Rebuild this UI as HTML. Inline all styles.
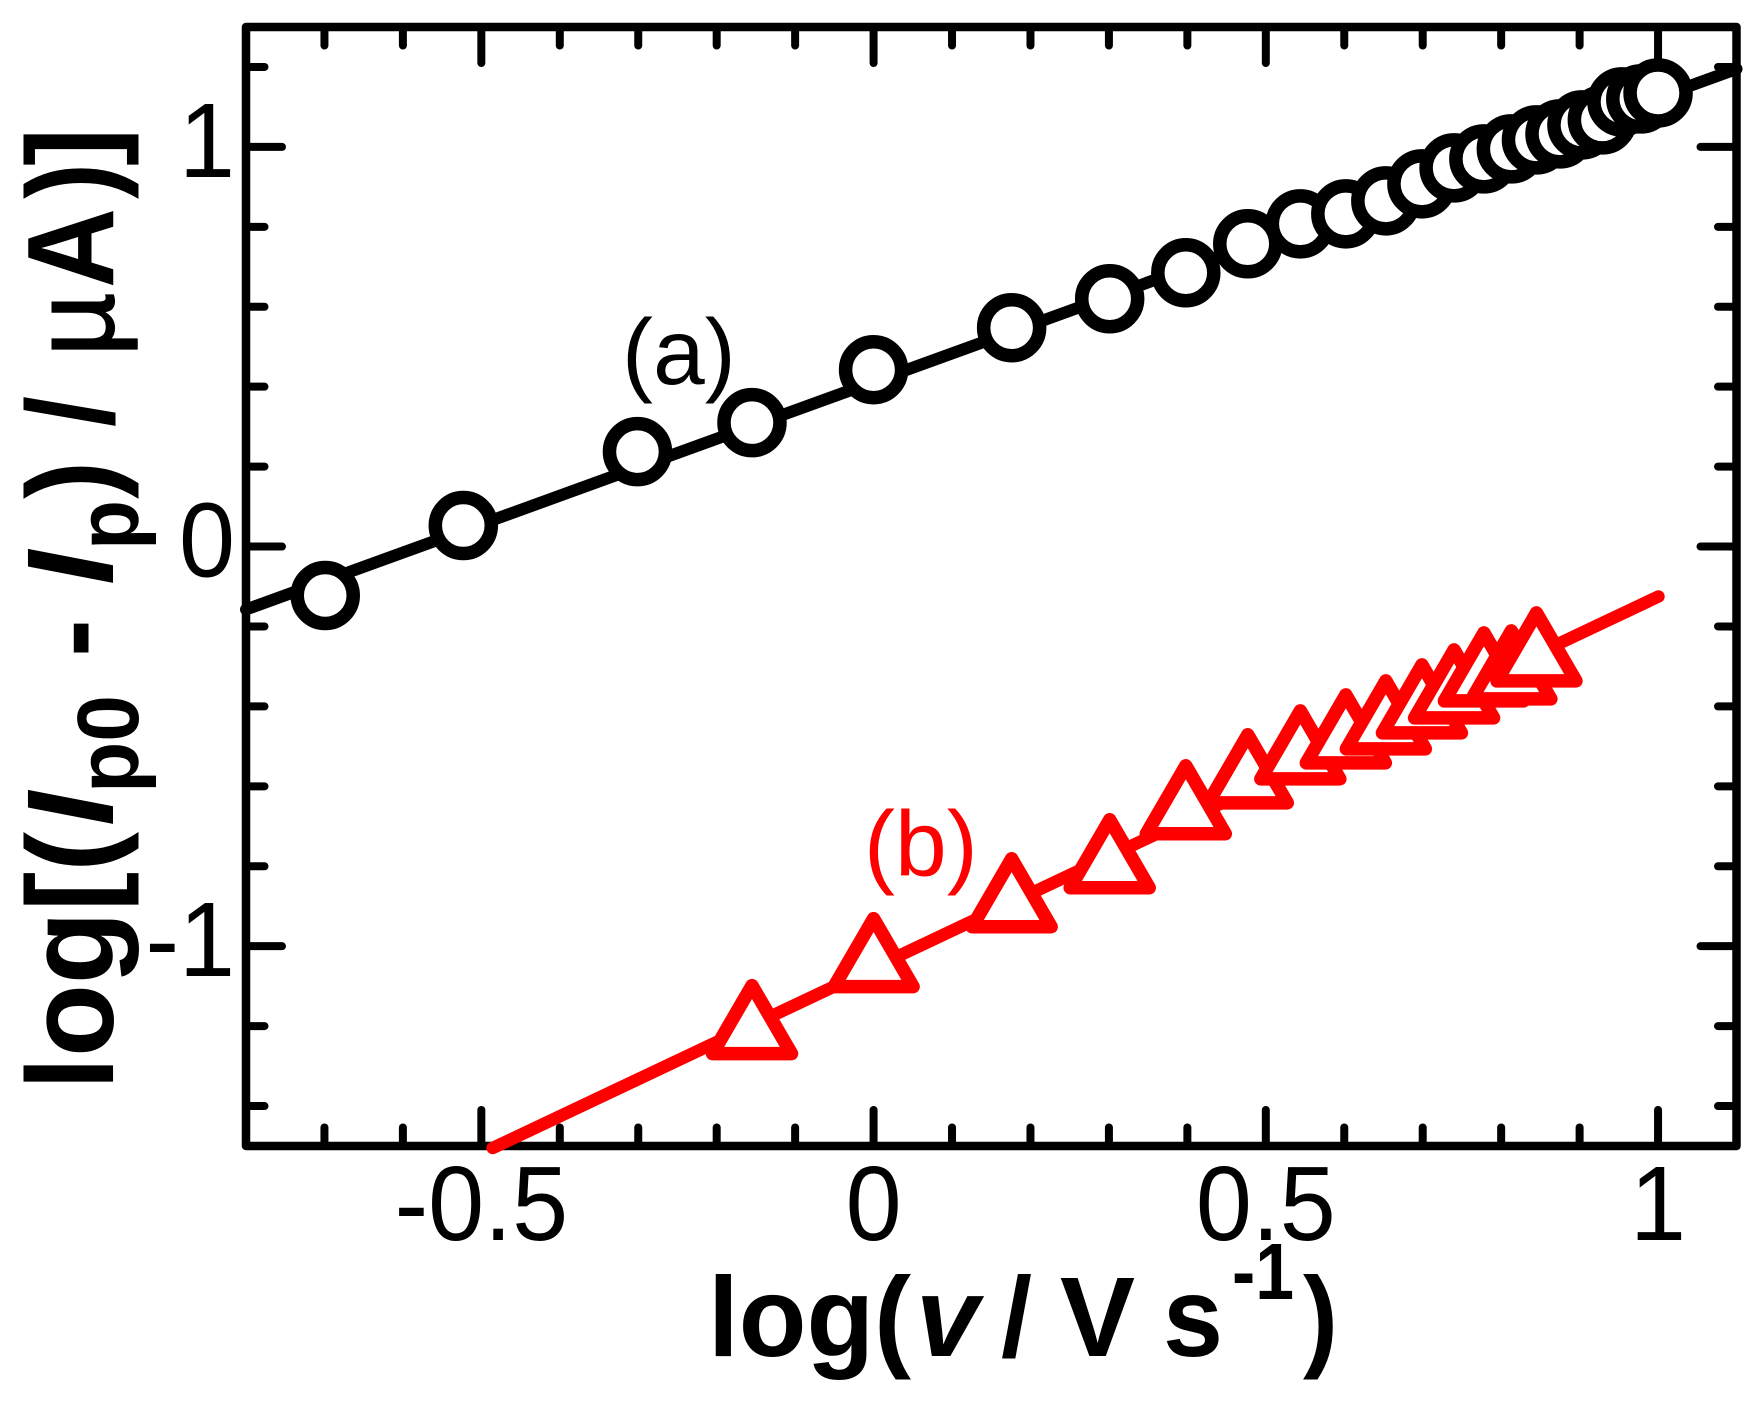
<!DOCTYPE html>
<html lang="en">
<head>
<meta charset="utf-8">
<title>log(Ip0 - Ip) vs log(v)</title>
<style>
html,body{margin:0;padding:0;background:#fff;}
svg{display:block;}
text{font-family:"Liberation Sans",Arial,sans-serif;fill:#000;}
.b{font-weight:bold;}
.bi{font-weight:bold;font-style:italic;}
</style>
</head>
<body>
<svg id="chart" xmlns="http://www.w3.org/2000/svg" width="1764" height="1411" viewBox="0 0 1764 1411">
  <rect x="0" y="0" width="1764" height="1411" fill="#fff"/>
  <g id="ticks"></g>
  <rect x="246" y="27" width="1490.5" height="1119" fill="none" stroke="#000" stroke-width="8.5" stroke-linejoin="round"/>
  <g id="marks"></g>
  <g id="labels"></g>

  <g font-size="123">
    <text class="b" transform="translate(113,1090) rotate(-90)" textLength="258" lengthAdjust="spacingAndGlyphs">log[(</text>
    <text class="bi" transform="translate(113,826) rotate(-90)" textLength="34" lengthAdjust="spacingAndGlyphs">I</text>
    <text class="b" font-size="87" transform="translate(138,793) rotate(-90)" textLength="98" lengthAdjust="spacingAndGlyphs">p0</text>
    <text class="b" transform="translate(113,657) rotate(-90)" textLength="38" lengthAdjust="spacingAndGlyphs">-</text>
    <text class="bi" transform="translate(113,585) rotate(-90)" textLength="34" lengthAdjust="spacingAndGlyphs">I</text>
    <text class="b" font-size="87" transform="translate(138,550) rotate(-90)" textLength="50" lengthAdjust="spacingAndGlyphs">p</text>
    <text class="b" transform="translate(113,499) rotate(-90)" textLength="38" lengthAdjust="spacingAndGlyphs">)</text>
    <text class="b" transform="translate(113,427) rotate(-90)" textLength="31" lengthAdjust="spacingAndGlyphs">/</text>
    <text font-size="115" stroke="#000" stroke-width="1.5" transform="translate(113,356.5) rotate(-90)" textLength="64" lengthAdjust="spacingAndGlyphs">µ</text>
    <text class="b" transform="translate(113,288) rotate(-90)" textLength="80" lengthAdjust="spacingAndGlyphs">A</text>
    <text class="b" transform="translate(113,199) rotate(-90)" textLength="36" lengthAdjust="spacingAndGlyphs">)</text>
    <text class="b" transform="translate(113,166) rotate(-90)" textLength="38" lengthAdjust="spacingAndGlyphs">]</text>
  </g>

  <g font-size="113">
    <text class="b" x="708" y="1356" textLength="203" lengthAdjust="spacingAndGlyphs">log(</text>
    <text class="bi" x="916" y="1356" textLength="63" lengthAdjust="spacingAndGlyphs">v</text>
    <text class="b" x="1001" y="1356" textLength="31" lengthAdjust="spacingAndGlyphs">/</text>
    <text class="b" x="1060" y="1356" textLength="75" lengthAdjust="spacingAndGlyphs">V</text>
    <text class="b" x="1163" y="1356" textLength="60" lengthAdjust="spacingAndGlyphs">s</text>
    <text class="b" font-size="80" x="1232" y="1299" textLength="62" lengthAdjust="spacingAndGlyphs">-1</text>
    <text class="b" x="1303" y="1356" textLength="35" lengthAdjust="spacingAndGlyphs">)</text>
  </g>

  <text x="622" y="384" font-size="93">(a)</text>
  <text x="864" y="876" font-size="93" style="fill:#f00">(b)</text>
</svg>
<script>
// Axis domains and ticks
const xDomain = [-0.8, 1.1];
const yDomain = [-1.5, 1.3];
const xMajorTicks = [-0.5, 0, 0.5, 1];
const xMinorTicks = [-0.7, -0.6, -0.4, -0.3, -0.2, -0.1, 0.1, 0.2, 0.3, 0.4, 0.6, 0.7, 0.8, 0.9];
const yMajorTicks = [-1, 0, 1];
const yMinorTicks = [-1.4, -1.2, -0.8, -0.6, -0.4, -0.2, 0.2, 0.4, 0.6, 0.8, 1.2];
const xTickLabels = ["-0.5", "0", "0.5", "1"];
const yTickLabels = ["-1", "0", "1"];

// Series (a): black circles
const seriesAX = [-0.699, -0.523, -0.301, -0.155, 0, 0.176, 0.301, 0.398, 0.477, 0.544, 0.602, 0.653, 0.699, 0.740, 0.778, 0.813, 0.845, 0.875, 0.903, 0.929, 0.954, 0.978, 1.0];
const seriesAY = [-0.1225, 0.0525, 0.2375, 0.31, 0.4425, 0.5475, 0.62, 0.685, 0.7575, 0.8075, 0.8325, 0.865, 0.9075, 0.9475, 0.97, 0.995, 1.0175, 1.0325, 1.055, 1.0675, 1.1125, 1.12, 1.135];
const fitAX = [-0.8, 1.1];
const fitAY = [-0.1575, 1.195];

// Series (b): red triangles
const seriesBX = [-0.155, 0, 0.176, 0.301, 0.398, 0.477, 0.544, 0.602, 0.653, 0.699, 0.740, 0.778, 0.813, 0.845];
const seriesBY = [-1.2125, -1.045, -0.895, -0.7975, -0.6625, -0.585, -0.525, -0.485, -0.45, -0.41, -0.3725, -0.33, -0.325, -0.28];
const fitBX = [-0.4855, 1.0005];
const fitBY = [-1.505, -0.125];

const plotLeft = 246, plotRight = 1736.5, plotTop = 27, plotBottom = 1146;
const X = v => plotLeft + (v - xDomain[0]) / (xDomain[1] - xDomain[0]) * (plotRight - plotLeft);
const Y = v => plotBottom - (v - yDomain[0]) / (yDomain[1] - yDomain[0]) * (plotBottom - plotTop);

const NS = "http://www.w3.org/2000/svg";
const ticksG = document.getElementById("ticks");
const marksG = document.getElementById("marks");
const labelsG = document.getElementById("labels");

function make(tag, attrs, parent) {
  const el = document.createElementNS(NS, tag);
  for (const k in attrs) el.setAttribute(k, attrs[k]);
  parent.appendChild(el);
  return el;
}

function tickLine(x1, y1, x2, y2, name) {
  const el = make("line", {x1, y1, x2, y2, stroke: "#000", "stroke-width": 8, "stroke-linecap": "round"}, ticksG);
  
  
}

function xTicks(values, len, kind) {
  values.forEach(v => {
    tickLine(X(v), plotBottom, X(v), plotBottom - len, 'x-' + kind + '-tick-bottom');
    tickLine(X(v), plotTop, X(v), plotTop + len, 'x-' + kind + '-tick-top');
  });
}
function yTicks(values, len, kind) {
  values.forEach(v => {
    tickLine(plotLeft, Y(v), plotLeft + len, Y(v), 'y-' + kind + '-tick-left');
    tickLine(plotRight, Y(v), plotRight - len, Y(v), 'y-' + kind + '-tick-right');
  });
}
xTicks(xMajorTicks, 36, 'major');
xTicks(xMinorTicks, 18.5, 'minor');
yTicks(yMajorTicks, 36, 'major');
yTicks(yMinorTicks, 18.5, 'minor');

xMajorTicks.forEach((v, i) => {
  const t = make("text", {transform: "translate(" + X(v) + ",1240) scale(0.95,1)", "text-anchor": "middle", "font-size": 106}, labelsG);
  t.textContent = xTickLabels[i];
  
  
});
yMajorTicks.forEach((v, i) => {
  const t = make("text", {transform: "translate(235," + (Y(v) + 30) + ") scale(0.95,1)", "text-anchor": "end", "font-size": 106}, labelsG);
  t.textContent = yTickLabels[i];
  
  
});

const fitA = make("line", {x1: X(fitAX[0]), y1: Y(fitAY[0]), x2: X(fitAX[1]), y2: Y(fitAY[1]), stroke: "#000", "stroke-width": 12, "stroke-linecap": "round"}, marksG);



const fitB = make("line", {x1: X(fitBX[0]), y1: Y(fitBY[0]), x2: X(fitBX[1]), y2: Y(fitBY[1]), stroke: "#f00", "stroke-width": 12.5, "stroke-linecap": "round"}, marksG);



seriesAX.forEach((v, i) => {
  const c = make("circle", {cx: X(v), cy: Y(seriesAY[i]), r: 28, fill: "#fff", stroke: "#000", "stroke-width": 13.5}, marksG);
  
  
});

seriesBX.forEach((v, i) => {
  const cx = X(v), cy = Y(seriesBY[i]);
  const pts = [cx, cy - 45.5, cx + 39.5, cy + 22.5, cx - 39.5, cy + 22.5].join(" ");
  const p = make("polygon", {points: pts, fill: "#fff", stroke: "#f00", "stroke-width": 13.5, "stroke-linejoin": "round"}, marksG);
  
  
});
</script>
</body>
</html>
